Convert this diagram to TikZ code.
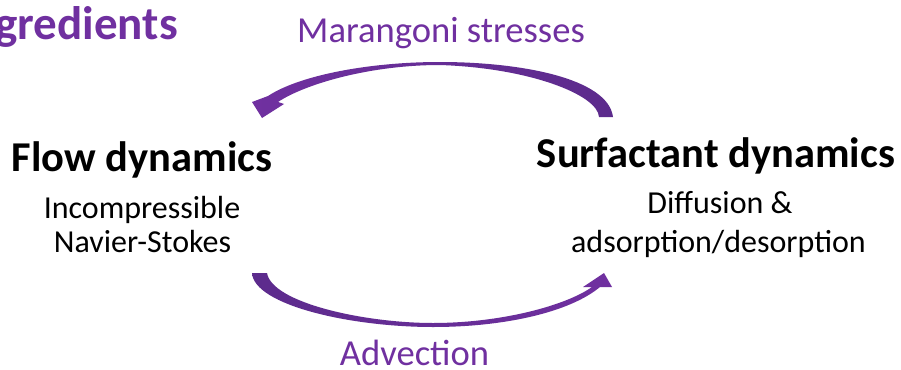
\documentclass[tikz,border=0pt]{standalone}
\usepackage{fontspec}
\setmainfont{Carlito}
\definecolor{mpurple}{HTML}{7030A0}
\definecolor{dpurple}{HTML}{5C2B8C}
\begin{document}
\begin{tikzpicture}[x=1pt,y=-1pt,
  title/.style={font=\fontsize{47}{50}\selectfont\bfseries, text=mpurple, inner sep=0pt},
  head/.style={font=\fontsize{42.5}{46}\selectfont\bfseries, text=black, inner sep=0pt},
  sub/.style={font=\fontsize{32}{36}\selectfont, text=black, inner sep=0pt},
  lab/.style={font=\fontsize{36.6}{40}\selectfont, text=mpurple, inner sep=0pt}]
\clip (0,0) rectangle (901,369);
\fill[white] (0,0) rectangle (901,369);
% texts
\node[title, anchor=base east] (ttl) at (178,40) {Ingredients};
\node[head, anchor=base] (flow) at (142,171.5) {Flow dynamics};
\node[sub, anchor=base] (flow1) at (142,218) {Incompressible};
\node[sub, anchor=base] (flow2) at (142.5,252) {Navier-Stokes};
\node[head, anchor=base] (surf) at (716,167.5) {Surfactant dynamics};
\node[sub, anchor=base] (surf1) at (720,213) {Diffusion \&};
\node[sub, anchor=base] (surf2) at (718.5,252) {adsorption/desorption};
\node[lab, anchor=base] (mar) at (441,43) {Marangoni stresses};
\node[lab, anchor=base] (adv) at (414.5,365) {Advection};
% top arrow (Marangoni)
\shade[left color=mpurple, right color=dpurple]
  (613,117) .. controls (608,78) and (520,62) .. (440,62)
  .. controls (370,62) and (300,75) .. (268,96)
  -- (252,102) -- (262,118) -- (284,104) -- (278,102)
  .. controls (305,84) and (370,65) .. (440,65)
  .. controls (530,68) and (598,95) .. (599,117) -- cycle;
% bottom arrow (Advection)
\shade[left color=dpurple, right color=mpurple]
  (252,273) .. controls (254,305) and (350,327) .. (433,327)
  .. controls (505,327) and (570,312) .. (600,287)
  -- (612,287) -- (604,273) -- (583,287) -- (592,287)
  .. controls (565,306) and (500,323) .. (433,323)
  .. controls (365,323) and (272,303) .. (267,273) -- cycle;
\end{tikzpicture}
\end{document}
